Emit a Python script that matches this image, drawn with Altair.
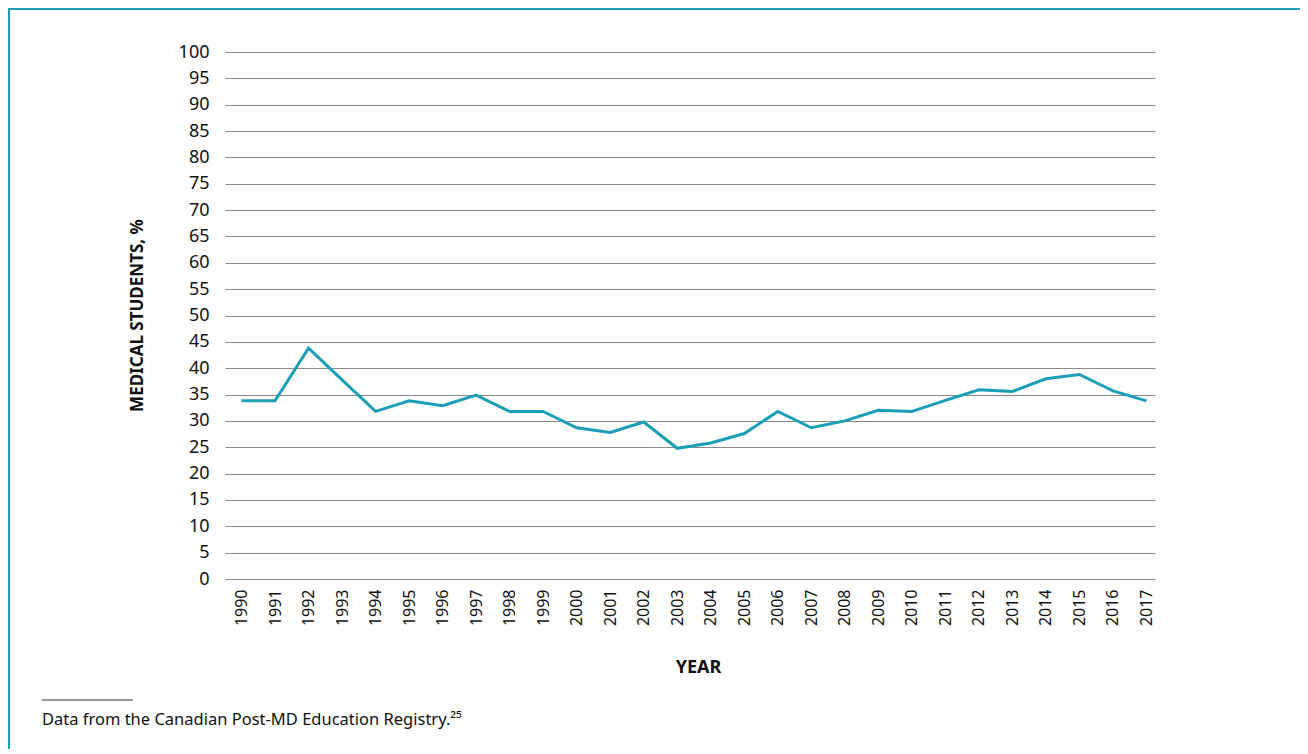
import altair as alt
import pandas as pd

years = [str(y) for y in range(1990, 2018)]
values = [33.8, 33.8, 43.8, 37.8, 31.8, 33.8, 32.9, 34.9, 31.8, 31.8,
          28.7, 27.8, 29.8, 24.8, 25.8, 27.6, 31.8, 28.7, 30.0, 32.0,
          31.8, 33.9, 35.9, 35.6, 38.0, 38.8, 35.7, 33.8]
y_ticks = list(range(0, 101, 5))

TEAL = "#1a9fb6"
FONT = "Noto Sans"

df = pd.DataFrame({"year": years, "value": values})

base = alt.Chart(df)

line = base.mark_line(color=TEAL, strokeWidth=3).encode(
    x=alt.X("year:N", sort=years, scale=alt.Scale(type="point", padding=0.373, align=0.66),
            axis=alt.Axis(title="YEAR", labelAngle=-90, labelAlign="right", labelBaseline="middle",
                          labelPadding=10, labelFontSize=16, labelColor="#111", labelFont=FONT,
                          ticks=False, domain=False, grid=False,
                          titleFont=FONT, titleFontSize=18, titleFontWeight="bold", titleColor="#111",
                          titleY=88, titleX=473, titleBaseline="middle", titleAlign="center")),
    y=alt.Y("value:Q", scale=alt.Scale(domain=[0, 100], nice=False),
            axis=alt.Axis(title="MEDICAL STUDENTS, %", values=y_ticks, labelFontSize=18,
                          labelColor="#111", labelFont=FONT, labelPadding=16,
                          ticks=False, domain=False, grid=True, gridColor="#8a8a8a", gridWidth=1.2,
                          titleFont=FONT, titleFontSize=17, titleFontWeight="bold", titleColor="#111",
                          titleAngle=-90, titleX=-88, titleY=263, titleAlign="center",
                          titleBaseline="middle")),
)

one = pd.DataFrame({"a": [0]})

# frame lines (teal border top and left)
top_border = alt.Chart(one).mark_rule(color=TEAL, strokeWidth=3).encode(
    x=alt.value(-217), x2=alt.value(1090), y=alt.value(-43.5))
left_border = alt.Chart(one).mark_rule(color=TEAL, strokeWidth=3).encode(
    x=alt.value(-216.5), y=alt.value(-45), y2=alt.value(710))

foot_rule = alt.Chart(one).mark_rule(color="#333", strokeWidth=1).encode(
    x=alt.value(-183), x2=alt.value(-92), y=alt.value(648))
foot_text = alt.Chart(pd.DataFrame({"t": ["Data from the Canadian Post-MD Education Registry.²⁵"]})).mark_text(
    align="left", baseline="middle", fontSize=16.5, font=FONT, color="#111").encode(
    x=alt.value(-183), y=alt.value(668), text="t:N")

chart = alt.layer(line, top_border, left_border, foot_text, foot_rule).properties(
    width=930, height=527,
    background="white",
    autosize=alt.AutoSizeParams(type="none"),
    padding={"left": 217, "top": 44, "right": 145, "bottom": 170},
).configure_view(stroke="transparent", strokeWidth=0)

chart.save("out.html", embed_options={"renderer": "svg", "actions": False})
